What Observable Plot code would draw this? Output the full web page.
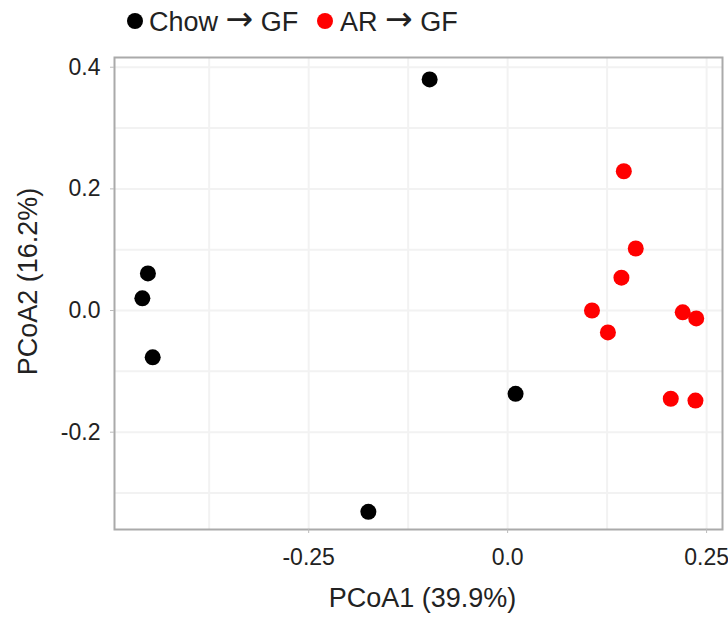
<!DOCTYPE html>
<html>
<head>
<meta charset="utf-8">
<script src="https://cdn.jsdelivr.net/npm/d3@7"></script>
<script src="https://cdn.jsdelivr.net/npm/@observablehq/plot@0.6"></script>
<style>
  html, body { margin: 0; padding: 0; background: #fff; }
  body { width: 728px; height: 619px; overflow: hidden; font-family: "Liberation Sans", Arial, sans-serif; color: #222; }
  #legend { position: relative; height: 40px; width: 728px; }
  .dot { position: absolute; width: 16px; height: 16px; border-radius: 50%; top: 12.5px; }
  .lab { position: absolute; top: 0; font-size: 27px; line-height: 40px; white-space: nowrap; color: #222; }
  .arr { font-family: "DejaVu Sans", sans-serif; font-size: 33px; line-height: 40px; display: inline-block; transform: translateY(-1px); }
</style>
</head>
<body>
<div id="legend"></div>
<div id="chart"></div>
<script>
// Groups / legend
const groups = ["Chow → GF", "AR → GF"];
const groupColors = ["#000000", "#ff0000"];

// Chow → GF samples
const chowX = [-0.098, -0.452, -0.459, -0.446, 0.010, -0.175];
const chowY = [0.380, 0.061, 0.020, -0.077, -0.137, -0.331];

// AR → GF samples
const arX = [0.146, 0.161, 0.143, 0.106, 0.126, 0.220, 0.237, 0.205, 0.236];
const arY = [0.229, 0.102, 0.054, 0.000, -0.036, -0.003, -0.013, -0.145, -0.148];

// Axes
const xTicks = [-0.25, 0, 0.25];
const xTickLabels = ["-0.25", "0.0", "0.25"];
const yTicks = [-0.2, 0, 0.2, 0.4];
const yTickLabels = ["-0.2", "0.0", "0.2", "0.4"];
const xGrid = [-0.375, -0.25, -0.125, 0, 0.125, 0.25];
const yGrid = [-0.3, -0.2, -0.1, 0, 0.1, 0.2, 0.3, 0.4];
const xTitle = "PCoA1 (39.9%)";
const yTitle = "PCoA2 (16.2%)";

const points = [
  ...chowX.map((x, i) => ({x, y: chowY[i], group: groups[0]})),
  ...arX.map((x, i) => ({x, y: arY[i], group: groups[1]}))
];

// Legend (HTML)
const legend = document.getElementById("legend");
const legendPos = [{dot: 127, text: 149}, {dot: 317, text: 340}];
groups.forEach((g, i) => {
  const d = document.createElement("div");
  d.className = "dot";
  d.style.left = legendPos[i].dot + "px";
  d.style.background = groupColors[i];
  legend.appendChild(d);
  const t = document.createElement("div");
  t.className = "lab";
  t.style.left = legendPos[i].text + "px";
  const parts = g.split("→");
  t.appendChild(document.createTextNode(parts[0]));
  const a = document.createElement("span");
  a.className = "arr";
  a.textContent = "→";
  t.appendChild(a);
  t.appendChild(document.createTextNode(parts[1]));
  legend.appendChild(t);
});

const chart = Plot.plot({
  width: 728,
  height: 579,
  marginTop: 17,
  marginBottom: 90,
  marginLeft: 114,
  marginRight: 6,
  style: {fontFamily: "Liberation Sans, Arial, sans-serif", color: "#222", background: "#fff"},
  x: {domain: [-0.494, 0.270]},
  y: {domain: [-0.360, 0.416]},
  color: {domain: groups, range: groupColors},
  marks: [
    Plot.gridX(xGrid, {stroke: "#f2f2f2", strokeOpacity: 1, strokeWidth: 2}),
    Plot.gridY(yGrid, {stroke: "#f2f2f2", strokeOpacity: 1, strokeWidth: 2}),
    Plot.frame({stroke: "#aaaaaa", strokeWidth: 2}),
    Plot.axisX(xTicks, {tickSize: 4, tickPadding: 15, fontSize: 23, stroke: "#bbbbbb",
      tickFormat: (d) => xTickLabels[xTicks.indexOf(d)], label: null}),
    Plot.axisY(yTicks, {tickSize: 4, tickPadding: 10, fontSize: 23, stroke: "#bbbbbb",
      tickFormat: (d) => yTickLabels[yTicks.indexOf(d)], label: null}),
    Plot.text([xTitle], {text: (d) => d, frameAnchor: "bottom", lineAnchor: "middle", textAnchor: "middle",
      dx: 4, dy: 69, fontSize: 27, fill: "#222"}),
    Plot.text([yTitle], {text: (d) => d, frameAnchor: "left", lineAnchor: "middle", textAnchor: "middle",
      dx: -86, dy: -12, rotate: -90, fontSize: 27, fill: "#222"}),
    Plot.dot(points, {x: "x", y: "y", fill: "group", r: 8, stroke: "none"})
  ]
});
document.getElementById("chart").appendChild(chart);
</script>
</body>
</html>
